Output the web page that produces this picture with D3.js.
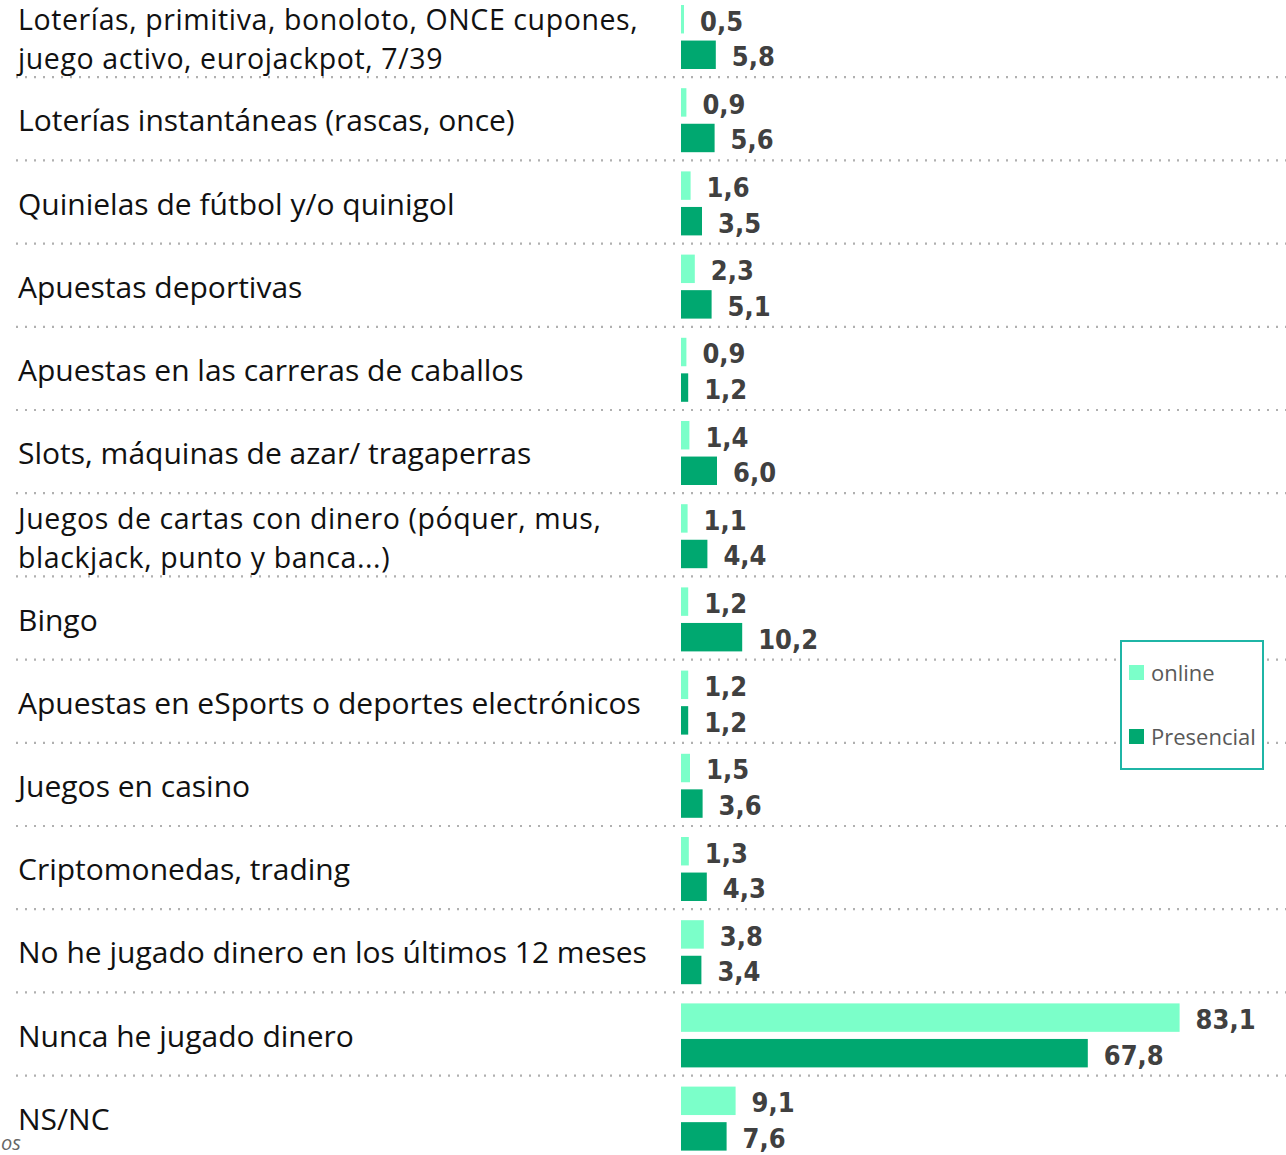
<!DOCTYPE html>
<html>
<head>
<meta charset="utf-8">
<script src="https://cdn.jsdelivr.net/npm/d3@7"></script>
<style>
  html, body { margin: 0; padding: 0; background: #fff; }
  svg { display: block; }
</style>
</head>
<body>
<svg id="chart" width="1286" height="1155"></svg>
<script>
// Juegos con dinero: porcentaje online vs presencial
const categories = [
  ["Loterías, primitiva, bonoloto, ONCE cupones,", "juego activo, eurojackpot, 7/39"],
  ["Loterías instantáneas (rascas, once)"],
  ["Quinielas de fútbol y/o quinigol"],
  ["Apuestas deportivas"],
  ["Apuestas en las carreras de caballos"],
  ["Slots, máquinas de azar/ tragaperras"],
  ["Juegos de cartas con dinero (póquer, mus,", "blackjack, punto y banca...)"],
  ["Bingo"],
  ["Apuestas en eSports o deportes electrónicos"],
  ["Juegos en casino"],
  ["Criptomonedas, trading"],
  ["No he jugado dinero en los últimos 12 meses"],
  ["Nunca he jugado dinero"],
  ["NS/NC"]
];
const online     = [0.5, 0.9, 1.6, 2.3, 0.9, 1.4, 1.1, 1.2, 1.2, 1.5, 1.3, 3.8, 83.1, 9.1];
const presencial = [5.8, 5.6, 3.5, 5.1, 1.2, 6.0, 4.4, 10.2, 1.2, 3.6, 4.3, 3.4, 67.8, 7.6];
const seriesNames = ["online", "Presencial"];
const colors = { online: "#7BFFC9", Presencial: "#00A870" };

const svg = d3.select("#chart");
const W = 1286, H = 1155;

const keys = categories.map((c, i) => i);
const y = d3.scaleBand().domain(keys).range([-7, -7 + 14 * 83.2]).padding(0);
const ySub = d3.scaleBand().domain(seriesNames).range([12, 12 + 64]).paddingInner(0.2);
const x = d3.scaleLinear().domain([0, 100]).range([681, 681 + 600]);

const fmt = v => d3.format(".1f")(v).replace(".", ",");

// dotted separators between rows
svg.append("g").selectAll("line")
  .data(keys.slice(1))
  .join("line")
  .attr("x1", 16).attr("x2", W)
  .attr("y1", d => y(d) + 1).attr("y2", d => y(d) + 1)
  .attr("stroke", "#b0b0b0")
  .attr("stroke-width", 2.2)
  .attr("stroke-dasharray", "2,7");

// category labels (two-line labels set slightly tighter)
const lab = svg.append("g").selectAll("text")
  .data(keys)
  .join("text")
  .attr("x", 18)
  .attr("font-family", "'Open Sans', 'Noto Sans', sans-serif")
  .attr("font-size", d => categories[d].length > 1 ? 28.5 : 30)
  .attr("letter-spacing", d => categories[d].length > 1 ? 0.6 : 0)
  .attr("fill", "#111");
lab.each(function(d) {
  const lines = categories[d];
  const cy = y(d) + y.bandwidth() / 2 + (lines.length > 1 ? 5 : 3);
  const lh = 39;
  const t = d3.select(this);
  lines.forEach((ln, j) => {
    t.append("tspan")
      .attr("x", 18)
      .attr("y", cy + (j - (lines.length - 1) / 2) * lh)
      .attr("dy", "0.35em")
      .text(ln);
  });
});

// bars
const rows = keys.map(i => [
  { key: "online", i, v: online[i] },
  { key: "Presencial", i, v: presencial[i] }
]).flat();

svg.append("g").selectAll("rect")
  .data(rows)
  .join("rect")
  .attr("x", x(0))
  .attr("y", d => y(d.i) + ySub(d.key))
  .attr("width", d => x(d.v) - x(0))
  .attr("height", ySub.bandwidth())
  .attr("fill", d => colors[d.key]);

// value labels
svg.append("g").selectAll("text")
  .data(rows)
  .join("text")
  .attr("x", d => x(d.v) + 16)
  .attr("y", d => y(d.i) + ySub(d.key) + ySub.bandwidth() / 2 + 2)
  .attr("dy", "0.35em")
  .attr("font-family", "'DejaVu Sans', sans-serif")
  .attr("font-stretch", "condensed")
  .attr("font-weight", "bold")
  .attr("font-size", 27)
  .attr("fill", "#404040")
  .text(d => fmt(d.v));

// legend
const lg = svg.append("g");
lg.append("rect")
  .attr("x", 1121).attr("y", 641).attr("width", 142).attr("height", 128)
  .attr("fill", "#fff").attr("stroke", "#1FB5A6").attr("stroke-width", 2);
seriesNames.forEach((s, j) => {
  const cy = 673 + j * 64;
  lg.append("rect").attr("x", 1129).attr("y", cy - 8).attr("width", 15).attr("height", 15)
    .attr("fill", colors[s]);
  lg.append("text").attr("x", 1151).attr("y", cy).attr("dy", "0.35em")
    .attr("font-family", "'Open Sans', 'Noto Sans', sans-serif")
    .attr("font-size", 22).attr("fill", "#595959").text(s);
});

// source note fragment at the bottom-left corner
svg.append("text")
  .attr("x", 1).attr("y", 1150)
  .attr("font-family", "'Open Sans', 'Noto Sans', sans-serif")
  .attr("font-style", "italic")
  .attr("font-size", 20)
  .attr("fill", "#666")
  .text("os");
</script>
</body>
</html>
